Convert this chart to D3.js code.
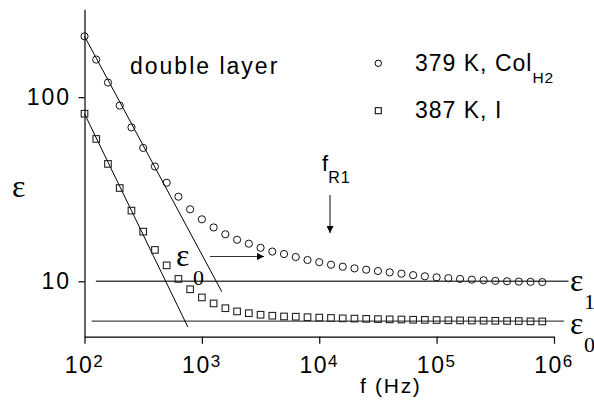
<!DOCTYPE html>
<html>
<head>
<meta charset="utf-8">
<script src="https://cdn.jsdelivr.net/npm/d3@7"></script>
<style>
    body { margin: 0; background: #fff; }
    svg { display: block; font-family: 'Liberation Sans', Arial, sans-serif; }
    .axis path, .axis line { stroke: #000; stroke-width: 1.2; }
    .sym { font-family: 'Liberation Serif', 'Times New Roman', serif; }
</style>
</head>
<body>
<svg id="chart" width="594" height="403"></svg>
<script>
// frequency points (Hz), 10 per decade
const FREQ = [100, 125.9, 158.5, 199.5, 251.2, 316.2, 398.1, 501.2, 631, 794.3,
    1000, 1259, 1585, 1995, 2512, 3162, 3981, 5012, 6310, 7943,
    10000, 12589, 15849, 19953, 25119, 31623, 39811, 50119, 63096, 79433,
    100000, 125893, 158489, 199526, 251189, 316228, 398107, 501187, 630957, 794328]

// 379 K, Col_H2
const EPS_COL = [214, 160, 120, 90, 68.5, 53, 42, 34.3, 28.8, 24.6,
    21.7, 19.6, 18.0, 16.8, 16.0, 15.2, 14.5, 14.06, 13.55, 13.05,
    12.7, 12.3, 12.0, 11.75, 11.56, 11.37, 11.18, 11.0, 10.8, 10.64,
    10.5, 10.4, 10.3, 10.2, 10.13, 10.05, 10.0, 9.96, 9.93, 9.9]

// 387 K, I
const EPS_ISO = [81.3, 59.3, 43.4, 32.1, 24.2, 18.6, 14.8, 12.2, 10.3, 9.05,
    8.17, 7.58, 7.14, 6.86, 6.71, 6.58, 6.50, 6.44, 6.42, 6.38,
    6.35, 6.32, 6.29, 6.27, 6.25, 6.23, 6.21, 6.2, 6.18, 6.17,
    6.16, 6.14, 6.13, 6.12, 6.11, 6.1, 6.09, 6.08, 6.06, 6.05]

// straight fits (log-log) and limiting levels
const FIT_COL = [[100, 214], [1480, 8.77]]
const FIT_ISO = [[100, 81.3], [760, 5.64]]
const EPS_INF = { value: 10, from: 125, to: 1.33e6 }
const EPS_0 = { value: 6.08, from: 115, to: 1.22e6 }

const X_MAJOR = [1e2, 1e3, 1e4, 1e5, 1e6]
const X_LABELS = [['10', '2'], ['10', '3'], ['10', '4'], ['10', '5'], ['10', '6']]
const Y_MAJOR = [10, 100]
const Y_LABELS = ['10', '100']

document.addEventListener('DOMContentLoaded', (e) => {

    let svg = d3.select('#chart')

    const x = d3.scaleLog().domain([100, 1e6]).range([84.5, 554])
    const y = d3.scaleLog().domain([5, 300]).range([336.7, 9.3])

    let xMinor = []
    let yMinor = []
    for (let d = 100; d < 1e6; d *= 10) {
        for (let k = 2; k < 10; k++) xMinor.push(d * k)
    }
    for (let d = 1; d <= 100; d *= 10) {
        for (let k = 2; k < 10; k++) {
            let v = d * k
            if (v >= 5 && v <= 300) yMinor.push(v)
        }
    }

    // x axis
    let gx = svg.append('g')
        .attr('class', 'axis')
        .attr('transform', 'translate(0,' + y(5) + ')')
    gx.call(d3.axisBottom(x).tickValues(xMinor).tickSize(4).tickSizeOuter(0).tickFormat(''))
    gx.call(d3.axisBottom(x).tickValues(X_MAJOR).tickSize(7).tickSizeOuter(0).tickFormat(''))
    gx.selectAll('.tick text').remove()

    let xl = svg.append('g')
        .selectAll('text')
        .data(X_MAJOR)
        .enter().append('text')
        .attr('x', (d) => x(d))
        .attr('y', 373)
        .attr('text-anchor', 'middle')
        .style('font-size', '23px')
        .style('letter-spacing', '1.5px')
    xl.append('tspan')
        .text((d, i) => X_LABELS[i][0])
    xl.append('tspan')
        .attr('dy', -6)
        .style('font-size', '17px')
        .text((d, i) => X_LABELS[i][1])

    // y axis
    let gy = svg.append('g')
        .attr('class', 'axis')
        .attr('transform', 'translate(' + x(100) + ',0)')
    gy.call(d3.axisLeft(y).tickValues(yMinor).tickSize(4).tickSizeOuter(0).tickFormat(''))
    gy.call(d3.axisLeft(y).tickValues(Y_MAJOR).tickSize(6).tickSizeOuter(0).tickFormat(''))

    svg.append('g')
        .selectAll('text')
        .data(Y_MAJOR)
        .enter().append('text')
        .attr('x', 71)
        .attr('y', (d) => y(d) + 8)
        .attr('text-anchor', 'end')
        .style('font-size', '23px')
        .style('letter-spacing', '2px')
        .text((d, i) => Y_LABELS[i])

    svg.append('text')
        .attr('class', 'sym')
        .attr('x', 12)
        .attr('y', 197)
        .style('font-size', '32px')
        .text('ε')

    svg.append('text')
        .attr('x', 360)
        .attr('y', 393)
        .style('font-size', '21px')
        .style('letter-spacing', '1.7px')
        .text('f (Hz)')

    // limiting levels
    const line = d3.line().x((d) => x(d[0])).y((d) => y(d[1]))
    ;[EPS_INF, EPS_0].forEach((lv) => {
        svg.append('path')
            .attr('d', line([[lv.from, lv.value], [lv.to, lv.value]]))
            .attr('stroke', '#444')
            .attr('stroke-width', 1.3)
            .attr('fill', 'none')
    })

    // fit lines
    ;[FIT_COL, FIT_ISO].forEach((f) => {
        svg.append('path')
            .attr('d', line(f))
            .attr('stroke', '#000')
            .attr('stroke-width', 1)
            .attr('fill', 'none')
    })

    // data
    svg.append('g')
        .selectAll('circle')
        .data(FREQ)
        .enter().append('circle')
        .attr('cx', (d) => x(d))
        .attr('cy', (d, i) => y(EPS_COL[i]))
        .attr('r', 3.6)
        .attr('fill', 'none')
        .attr('stroke', '#111')
        .attr('stroke-width', 1)

    svg.append('g')
        .selectAll('rect')
        .data(FREQ)
        .enter().append('rect')
        .attr('x', (d) => x(d) - 3.3)
        .attr('y', (d, i) => y(EPS_ISO[i]) - 3.3)
        .attr('width', 6.6)
        .attr('height', 6.6)
        .attr('fill', 'none')
        .attr('stroke', '#222')
        .attr('stroke-width', 1.1)

    // legend
    svg.append('text')
        .attr('x', 130)
        .attr('y', 74)
        .style('font-size', '23px')
        .style('letter-spacing', '2px')
        .text('double layer')

    svg.append('circle')
        .attr('cx', 378.3).attr('cy', 63.3).attr('r', 3.2)
        .attr('fill', 'none').attr('stroke', '#000')
    let t1 = svg.append('text')
        .attr('x', 415)
        .attr('y', 71)
        .style('font-size', '23px')
        .style('letter-spacing', '1px')
    t1.append('tspan').text('379 K, Col')
    t1.append('tspan').attr('dy', 12).style('font-size', '15.5px').text('H2')

    svg.append('rect')
        .attr('x', 375.3).attr('y', 107.7).attr('width', 6).attr('height', 6)
        .attr('fill', 'none').attr('stroke', '#000')
    svg.append('text')
        .attr('x', 415)
        .attr('y', 118)
        .style('font-size', '23px')
        .style('letter-spacing', '1px')
        .text('387 K, I')

    // annotations
    const marker = svg.append('defs').append('marker')
        .attr('id', 'head')
        .attr('viewBox', '0 0 10 10')
        .attr('refX', 10).attr('refY', 5)
        .attr('markerWidth', 9).attr('markerHeight', 7)
        .attr('markerUnits', 'userSpaceOnUse')
        .attr('orient', 'auto')
    marker.append('path').attr('d', 'M0,0L10,5L0,10z').attr('fill', '#000')

    let fr = svg.append('text')
        .attr('x', 322)
        .attr('y', 171)
        .style('font-size', '22px')
    fr.append('tspan').text('f')
    fr.append('tspan').attr('dy', 12).style('font-size', '16px').style('letter-spacing', '1px').text('R1')
    svg.append('line')
        .attr('x1', 330).attr('y1', 195).attr('x2', 330).attr('y2', 233)
        .attr('stroke', '#333').attr('stroke-width', 1.2)
        .attr('marker-end', 'url(#head)')

    svg.append('text').attr('class', 'sym')
        .attr('x', 176).attr('y', 266).style('font-size', '32px').text('ε')
    svg.append('text').attr('class', 'sym')
        .attr('x', 193).attr('y', 285).style('font-size', '22px').text('0')
    svg.append('line')
        .attr('x1', 210).attr('y1', 256.5).attr('x2', 264).attr('y2', 256.5)
        .attr('stroke', '#333').attr('stroke-width', 1.2)
        .attr('marker-end', 'url(#head)')

    svg.append('text').attr('class', 'sym')
        .attr('x', 570).attr('y', 291).style('font-size', '32px').text('ε')
    svg.append('text').attr('class', 'sym')
        .attr('x', 584).attr('y', 309).style('font-size', '22px').text('1')
    svg.append('text').attr('class', 'sym')
        .attr('x', 570).attr('y', 334).style('font-size', '32px').text('ε')
    svg.append('text').attr('class', 'sym')
        .attr('x', 584).attr('y', 352).style('font-size', '22px').text('0')
})
</script>
</body>
</html>
